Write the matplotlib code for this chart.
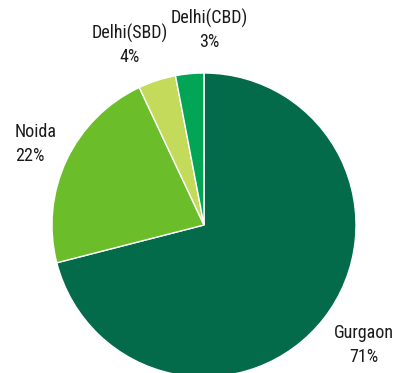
import matplotlib
matplotlib.use("Agg")
import matplotlib.pyplot as plt
from matplotlib import font_manager

# Share of office stock by micro-market
markets = ["Gurgaon", "Noida", "Delhi(SBD)", "Delhi(CBD)"]
shares = [71, 22, 4, 3]
colors = ["#046B4A", "#6BBD2A", "#C3DA5B", "#02A555"]


def pick_font():
    names = {f.name for f in font_manager.fontManager.ttflist}
    for fam in ["Liberation Sans Narrow", "Roboto Condensed", "Open Sans Condensed",
                "DejaVu Sans Condensed"]:
        if fam in names:
            return font_manager.FontProperties(family=fam)
    fp = font_manager.FontProperties(family="DejaVu Sans", stretch="condensed")
    return fp


fp = pick_font()
fp.set_size(13)

W, H = 395, 373
fig = plt.figure(figsize=(W / 100, H / 100), dpi=100)
ax = fig.add_axes([0, 0, 1, 1])

cx, cy, r = 204, H - 225, 152
ax.pie(shares, colors=colors, startangle=90, counterclock=False,
       center=(cx, cy), radius=r, frame=True,
       wedgeprops=dict(edgecolor="white", linewidth=1.0))
ax.set_xlim(0, W)
ax.set_ylim(0, H)
ax.set_aspect("equal")
ax.axis("off")

# label anchor points (pixel coords from top-left) and alignment
label_pos = {
    "Gurgaon": (364, 333, "center"),
    "Noida": (15, 132, "left"),
    "Delhi(SBD)": (130, 33, "center"),
    "Delhi(CBD)": (209, 18, "center"),
}
for name, val in zip(markets, shares):
    x, y, ha = label_pos[name]
    ax.text(x, H - y, name, ha=ha, va="center", fontproperties=fp,
            color="#1a1a1a")
    ax.text(x, H - y - 24, f"{val}%", ha=ha, va="center", fontproperties=fp,
            color="#1a1a1a")

fig.savefig("out.png", dpi=100)
